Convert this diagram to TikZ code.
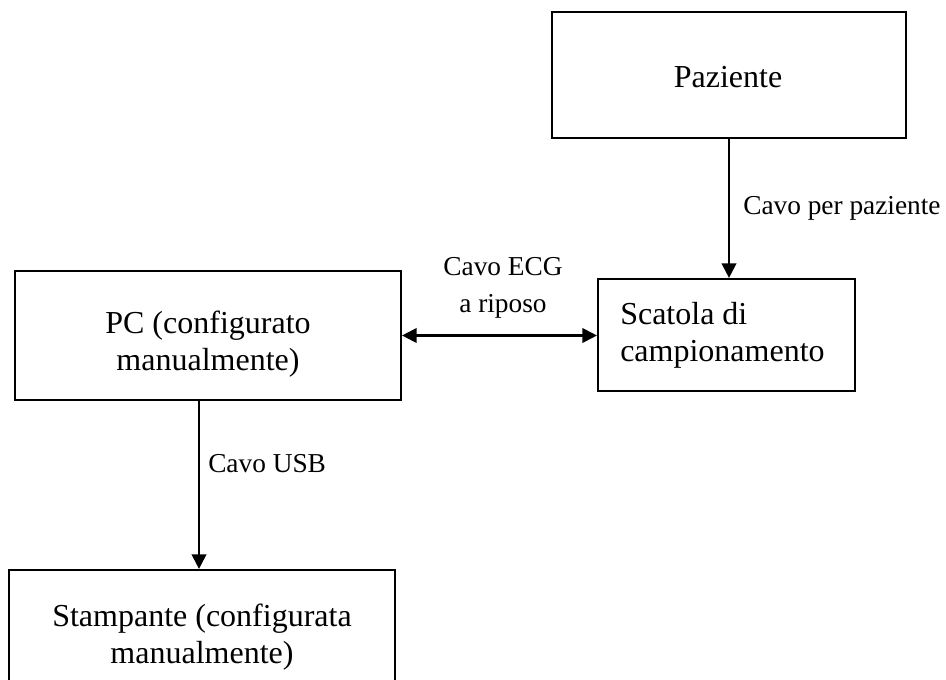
\documentclass[tikz,border=0pt]{standalone}
\usepackage{fontspec}
\setmainfont{Liberation Serif}
\usetikzlibrary{arrows.meta,fit}
\begin{document}
\begin{tikzpicture}[x=0.75pt,y=-0.75pt,
  box/.style={draw,line width=1.6pt,rectangle,inner sep=0pt},
  tip/.style={Triangle[length=11pt,width=11pt]},
  arr/.style={line width=1.6pt,-{Triangle[length=11pt,width=11pt]}},
  darr/.style={line width=1.6pt,{Triangle[length=11pt,width=11pt]}-{Triangle[length=11pt,width=11pt]}},
  big/.style={inner sep=0pt,font=\fontsize{24}{27.75}\selectfont},
  small/.style={inner sep=0pt,font=\fontsize{20.5}{27.75}\selectfont}]
\clip (0,0) rectangle (946,680);
\fill[white] (0,0) rectangle (946,680);
% boxes
\node[box,fit={(552,12) (906,138)}] (paz) {};
\node[box,fit={(598,279) (855,391)}] (sca) {};
\node[box,fit={(15,271) (401,400)}] (pc) {};
\node[box,fit={(9,570) (395,720)}] (sta) {};
% box texts (base anchor = baseline of the last line)
\node[big,anchor=base] (pazT) at (728,88) {Paziente};
\node[big,anchor=base west,align=left] (scaT) at (620,362) {Scatola di\\campionamento};
\node[big,anchor=base,align=center] (pcT) at (208,371) {PC (configurato\\manualmente)};
\node[big,anchor=base,align=center] (staT) at (202,663) {Stampante (configurata\\manualmente)};
% connectors
\coordinate (usb) at (199,0);
\draw[arr] (paz.south) -- (paz.south |- sca.north);
\draw[darr] (pc.east) -- (pc.east -| sca.west);
\draw[arr] (pc.south -| usb) -- (sta.north -| usb);
% connector labels
\node[small,anchor=base west] (l1) at (743,215) {Cavo per paziente};
\node[small,anchor=base,align=center] (l2) at (503,313) {Cavo ECG\\a riposo};
\node[small,anchor=base west] (l3) at (208,473) {Cavo USB};
\end{tikzpicture}
\end{document}
